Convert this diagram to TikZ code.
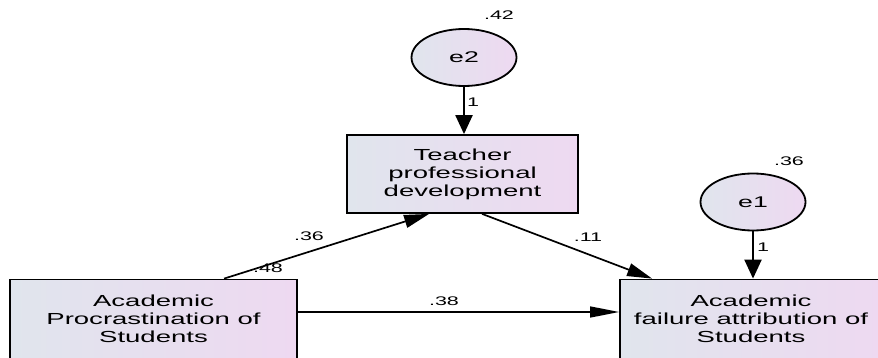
\documentclass[tikz,border=0pt]{standalone}
\usepackage{fontspec}
\setmainfont[FakeStretch=1.72]{Liberation Sans}
\usetikzlibrary{arrows.meta,calc,shapes.geometric}
\definecolor{cl}{RGB}{224,229,237}
\definecolor{cr}{RGB}{238,217,241}
\begin{document}
\begin{tikzpicture}[x=1pt,y=-1pt,
 box/.style={draw,line width=1.8pt,left color=cl,right color=cr,inner sep=0pt,align=center,font=\fontsize{16}{18}\selectfont},
 err/.style={draw,ellipse,line width=1.8pt,left color=cl,right color=cr,minimum width=105pt,minimum height=57pt,inner sep=0pt,font=\fontsize{15.5}{18}\selectfont},
 arrv/.style={line width=2.2pt,-{Triangle[length=19pt,width=17pt]}},
 arrh/.style={line width=1.5pt,-{Triangle[length=29pt,width=11pt]}},
 arrd/.style={line width=1.7pt,-{Triangle[length=25pt,width=13pt]}},
 lab/.style={font=\fontsize{12.5}{15}\selectfont,inner sep=0pt}]
\useasboundingbox (0,0) rectangle (878,358);
\node[box,minimum width=287pt,minimum height=79pt] (L) at (153.5,319) {Academic\\Procrastination of\\Students};
\node[box,minimum width=231pt,minimum height=78pt] (M) at (462.5,174) {Teacher\\professional\\development};
\node[box,minimum width=262pt,minimum height=79pt] (R) at (751,319) {Academic\\failure attribution of\\Students};
\node[err] (e2) at (464,57.5) {e2};
\node[err] (e1) at (753,202) {e1};
\coordinate (h) at (0,312);
\draw[arrv] (e2.south) -- (e2.south |- M.north);
\draw[arrv] (e1.south) -- (e1.south |- R.north);
\draw[arrh] (L.east |- h) -- (R.west |- h);
\draw[arrd] ($(L.north west)+(215,0)$) -- ($(M.south west)+(83,0)$);
\draw[arrd] ($(M.south west)+(136,0)$) -- ($(R.north west)+(33,0)$);
\node[lab] (l42) at (499,15) {.42};
\node[lab] (l36e) at (789,161) {.36};
\node[lab] (l1a) at (473,102) {1};
\node[lab] (l1b) at (763,247) {1};
\node[lab] (l36) at (309,236) {.36};
\node[lab] (l48) at (268,268) {.48};
\node[lab] (l11) at (588,237) {.11};
\node[lab] (l38) at (444,301) {.38};
\end{tikzpicture}
\end{document}
